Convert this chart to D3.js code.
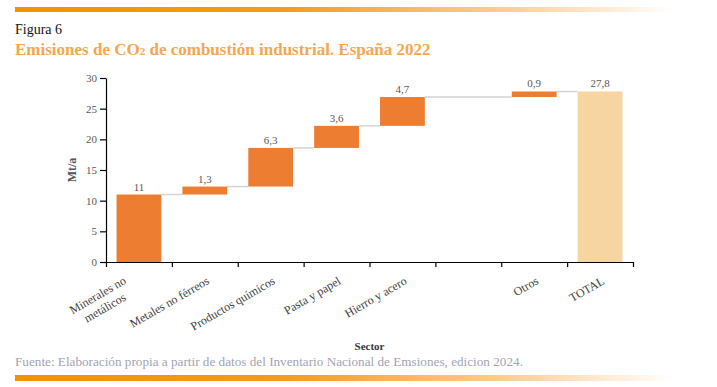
<!DOCTYPE html>
<html>
<head>
<meta charset="utf-8">
<script src="https://cdn.jsdelivr.net/npm/d3@7"></script>
<style>
  body { margin: 0; background: #ffffff; }
  svg { display: block; }
</style>
</head>
<body>
<div id="chart"></div>
<script>
// sector labels (one entry per line of the label), blank band between Hierro and Otros
var sector_labels = [
  ["Minerales no", "metálicos"],
  ["Metales no férreos"],
  ["Productos químicos"],
  ["Pasta y papel"],
  ["Hierro y acero"],
  [""],
  ["Otros"],
  ["TOTAL"],
];
var sector_values = [11, 1.3, 6.3, 3.6, 4.7, null, 0.9, 27.8];
var is_total = [false, false, false, false, false, false, false, true];
var y_ticks = [0, 5, 10, 15, 20, 25, 30];

var width = 717,
  height = 387;
var margins = { top: 78, right: 84, bottom: 125, left: 106 };
var serif = "'Liberation Serif', 'DejaVu Serif', serif";

var svg = d3
  .select("#chart")
  .append("svg")
  .attr("width", width)
  .attr("height", height);

// header / footer bars
var defs = svg.append("defs");
var grad = defs
  .append("linearGradient")
  .attr("id", "band-grad")
  .attr("x1", "0%")
  .attr("x2", "100%");
grad.append("stop").attr("offset", "0%").attr("stop-color", "#f39200");
grad.append("stop").attr("offset", "40%").attr("stop-color", "#f49a1a");
grad.append("stop").attr("offset", "72%").attr("stop-color", "#fdc98c");
grad.append("stop").attr("offset", "100%").attr("stop-color", "#ffffff");

svg.append("rect").attr("x", 15).attr("y", 7).attr("width", 660).attr("height", 5).attr("fill", "url(#band-grad)");
svg.append("rect").attr("x", 15).attr("y", 375).attr("width", 660).attr("height", 6).attr("fill", "url(#band-grad)");

svg
  .append("text")
  .attr("x", 15)
  .attr("y", 34)
  .attr("font-family", serif)
  .attr("font-size", "14px")
  .attr("fill", "#111111")
  .text("Figura 6");

var title = svg
  .append("text")
  .attr("x", 15)
  .attr("y", 55)
  .attr("font-family", serif)
  .attr("font-size", "17px")
  .attr("font-weight", "bold")
  .attr("fill", "#f6a650");
title.append("tspan").text("Emisiones de CO");
title.append("tspan").attr("font-size", "11px").text("2");
title.append("tspan").text(" de combustión industrial. España 2022");

// scales
var idx = d3.range(sector_labels.length);
var x = d3
  .scaleBand()
  .domain(idx)
  .range([margins.left, width - margins.right])
  .paddingInner(0.32)
  .paddingOuter(0.16);

var x_edges = d3
  .scaleLinear()
  .domain([0, sector_labels.length])
  .range([margins.left, width - margins.right]);

var y = d3
  .scaleLinear()
  .domain([0, 30])
  .range([height - margins.bottom, margins.top]);

// waterfall start / end
var bars = [];
var running = 0;
idx.forEach(function (i) {
  var v = sector_values[i];
  if (v === null) return;
  if (is_total[i]) {
    bars.push({ i: i, y0: 0, y1: v, v: v, total: true });
  } else {
    bars.push({ i: i, y0: running, y1: running + v, v: v, total: false });
    running += v;
  }
});

// connector lines
var links = [];
for (var k = 0; k < bars.length - 1; k++) {
  links.push({ from: bars[k], to: bars[k + 1] });
}
svg
  .selectAll(".link")
  .data(links)
  .enter()
  .append("line")
  .attr("class", "link")
  .attr("x1", (d) => x(d.from.i) + x.bandwidth())
  .attr("x2", (d) => x(d.to.i))
  .attr("y1", (d) => y(d.from.y1))
  .attr("y2", (d) => y(d.from.y1))
  .attr("stroke", "#d3d3d3")
  .attr("stroke-width", 1.5);

svg
  .selectAll(".bar")
  .data(bars)
  .enter()
  .append("rect")
  .attr("class", "bar")
  .attr("x", (d) => x(d.i))
  .attr("width", x.bandwidth())
  .attr("y", (d) => y(d.y1))
  .attr("height", (d) => y(d.y0) - y(d.y1))
  .attr("fill", (d) => (d.total ? "#f6d5a0" : "#ed7d31"));

svg
  .selectAll(".val")
  .data(bars)
  .enter()
  .append("text")
  .attr("class", "val")
  .attr("x", (d) => x(d.i) + x.bandwidth() / 2)
  .attr("y", (d) => y(d.y1) - 4)
  .attr("text-anchor", "middle")
  .attr("font-family", serif)
  .attr("font-size", "11px")
  .attr("fill", "#595959")
  .text((d) => String(d.v).replace(".", ","));

// axes
var y_axis = svg
  .append("g")
  .attr("transform", "translate(" + margins.left + ",0)")
  .call(d3.axisLeft(y).tickValues(y_ticks).tickSize(6).tickPadding(3).tickSizeOuter(0));

var x_axis = svg
  .append("g")
  .attr("transform", "translate(0," + (height - margins.bottom) + ")")
  .call(d3.axisBottom(x_edges).ticks(sector_labels.length).tickSize(5).tickFormat("").tickSizeOuter(0));

[y_axis, x_axis].forEach(function (g) {
  g.select(".domain").attr("stroke", "#000000").attr("stroke-width", 1.2);
  g.selectAll(".tick line").attr("stroke", "#000000").attr("stroke-width", 1.2);
  g.selectAll("text").attr("font-family", serif).attr("font-size", "11px").attr("fill", "#595959");
});

// rotated sector labels
var lbl = svg
  .selectAll(".xlbl")
  .data(idx)
  .enter()
  .append("g")
  .attr("class", "xlbl")
  .attr("transform", function (i) {
    var multi = sector_labels[i].length > 1;
    var cx = x(i) + x.bandwidth() / 2 + (multi ? -12 : 1);
    var cy = height - margins.bottom + (multi ? 21 : 14);
    return "translate(" + cx + "," + cy + ") rotate(-30)";
  });

lbl.each(function (i) {
  var g = d3.select(this);
  var t = g
    .append("text")
    .attr("font-family", serif)
    .attr("font-size", "12px")
    .attr("fill", "#404040")
    .attr("dy", "0.7em");
  var lines = sector_labels[i];
  if (lines.length === 1) {
    t.attr("text-anchor", "end").text(lines[0]);
  } else {
    var spans = t
      .selectAll("tspan")
      .data(lines)
      .enter()
      .append("tspan")
      .attr("text-anchor", "middle")
      .attr("dy", (d, j) => (j === 0 ? 0 : "1.2em"))
      .text((d) => d);
    var w = d3.max(spans.nodes(), (n) => n.getComputedTextLength());
    spans.attr("x", -w / 2);
  }
});

svg
  .append("text")
  .attr("transform", "translate(76," + (margins.top + (height - margins.bottom - margins.top) / 2) + ") rotate(-90)")
  .attr("text-anchor", "middle")
  .attr("font-family", serif)
  .attr("font-size", "12px")
  .attr("font-weight", "bold")
  .attr("fill", "#555555")
  .text("Mt/a");

svg
  .append("text")
  .attr("x", (margins.left + width - margins.right) / 2)
  .attr("y", 350)
  .attr("text-anchor", "middle")
  .attr("font-family", serif)
  .attr("font-size", "11px")
  .attr("font-weight", "bold")
  .attr("fill", "#3a3a3a")
  .text("Sector");

svg
  .append("text")
  .attr("x", 15)
  .attr("y", 366)
  .attr("font-family", serif)
  .attr("font-size", "13.2px")
  .attr("fill", "#a3a3b3")
  .text("Fuente: Elaboración propia a partir de datos del Inventario Nacional de Emsiones, edicion 2024.");
</script>
</body>
</html>
